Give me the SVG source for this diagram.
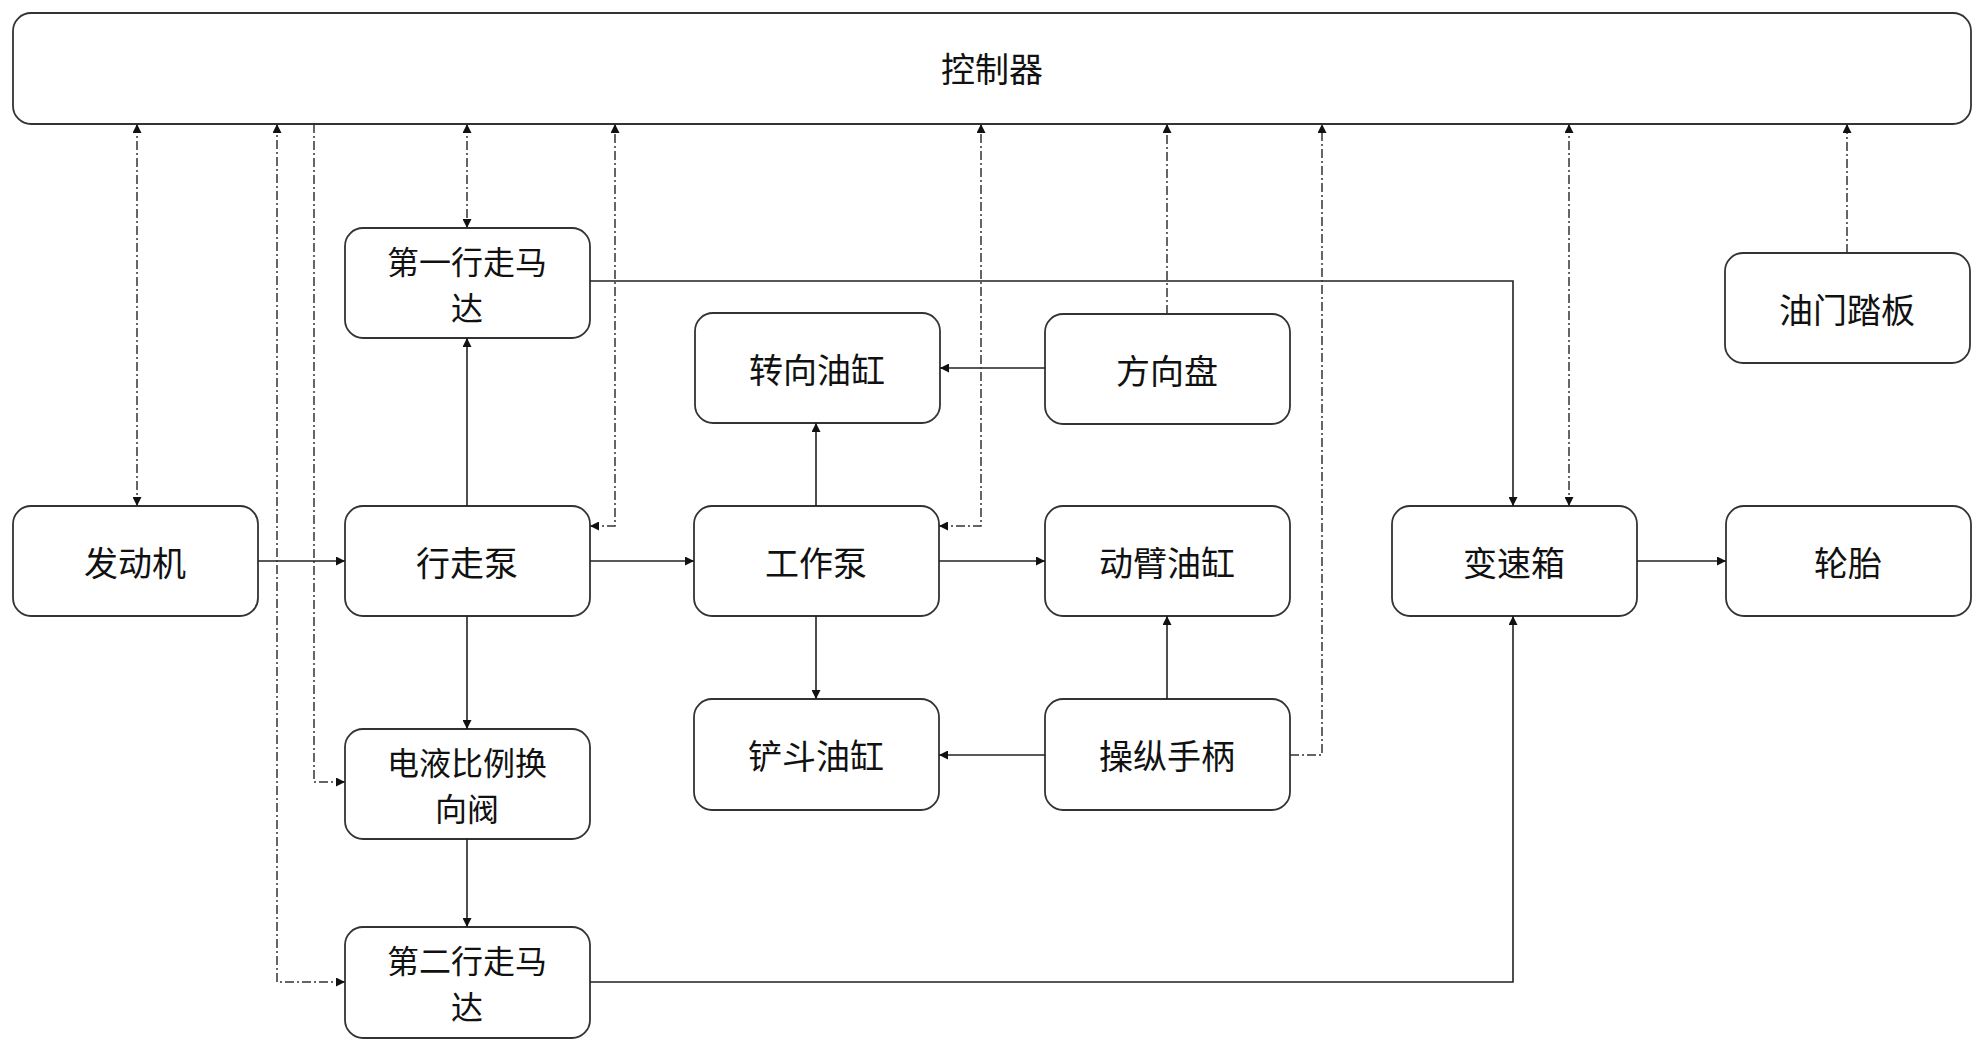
<svg xmlns="http://www.w3.org/2000/svg" width="1984" height="1052" viewBox="0 0 1984 1052">
<style>
.n rect{fill:#fff;stroke:#333;stroke-width:1.8}
.n text{font-family:"Noto Sans CJK SC",sans-serif;font-size:34px;fill:#111;text-anchor:middle;dominant-baseline:central}
.n text.t{font-size:32px}
.s{fill:none;stroke:#222;stroke-width:1.6}
.d{fill:none;stroke:#333;stroke-width:1.5;stroke-dasharray:9 3 2 3}
</style>
<defs>
<marker id="a" viewBox="0 0 10 10" refX="10" refY="5" markerWidth="9" markerHeight="9" markerUnits="userSpaceOnUse" orient="auto-start-reverse"><path d="M0,0L10,5L0,10Z" fill="#111"/></marker>
</defs>
<rect width="1984" height="1052" fill="#fff"/>
<g id="controller" class="n"><rect x="13" y="13" width="1958" height="111" rx="18"/><text x="992" y="67">控制器</text></g>
<g id="engine" class="n"><rect x="13" y="506" width="245" height="110" rx="18"/><text x="135" y="561">发动机</text></g>
<g id="travelpump" class="n"><rect x="345" y="506" width="245" height="110" rx="18"/><text x="467" y="561">行走泵</text></g>
<g id="motor1" class="n"><rect x="345" y="228" width="245" height="110" rx="18"/><text class="t" x="467" y="260">第一行走马</text><text class="t" x="467" y="306">达</text></g>
<g id="steercyl" class="n"><rect x="695" y="313" width="245" height="110" rx="18"/><text x="817" y="368">转向油缸</text></g>
<g id="wheel" class="n"><rect x="1045" y="314" width="245" height="110" rx="18"/><text x="1167" y="369">方向盘</text></g>
<g id="workpump" class="n"><rect x="694" y="506" width="245" height="110" rx="18"/><text x="816" y="561">工作泵</text></g>
<g id="boomcyl" class="n"><rect x="1045" y="506" width="245" height="110" rx="18"/><text x="1167" y="561">动臂油缸</text></g>
<g id="bucketcyl" class="n"><rect x="694" y="699" width="245" height="111" rx="18"/><text x="816" y="754">铲斗油缸</text></g>
<g id="joystick" class="n"><rect x="1045" y="699" width="245" height="111" rx="18"/><text x="1167" y="754">操纵手柄</text></g>
<g id="valve" class="n"><rect x="345" y="729" width="245" height="110" rx="18"/><text class="t" x="467" y="761">电液比例换</text><text class="t" x="467" y="807">向阀</text></g>
<g id="motor2" class="n"><rect x="345" y="927" width="245" height="111" rx="18"/><text class="t" x="467" y="959">第二行走马</text><text class="t" x="467" y="1005">达</text></g>
<g id="gearbox" class="n"><rect x="1392" y="506" width="245" height="110" rx="18"/><text x="1514" y="561">变速箱</text></g>
<g id="tire" class="n"><rect x="1726" y="506" width="245" height="110" rx="18"/><text x="1848" y="561">轮胎</text></g>
<g id="pedal" class="n"><rect x="1725" y="253" width="245" height="110" rx="18"/><text x="1847" y="308">油门踏板</text></g>
<g id="connectors">
<path class="s" d="M258,561H345" marker-end="url(#a)"/>
<path class="s" d="M467,506V338" marker-end="url(#a)"/>
<path class="s" d="M590,281H1513V506" marker-end="url(#a)"/>
<path class="s" d="M590,561H694" marker-end="url(#a)"/>
<path class="s" d="M467,616V729" marker-end="url(#a)"/>
<path class="s" d="M467,839V927" marker-end="url(#a)"/>
<path class="s" d="M590,982H1513V616" marker-end="url(#a)"/>
<path class="s" d="M816,506V423" marker-end="url(#a)"/>
<path class="s" d="M1045,368H940" marker-end="url(#a)"/>
<path class="s" d="M939,561H1045" marker-end="url(#a)"/>
<path class="s" d="M816,616V699" marker-end="url(#a)"/>
<path class="s" d="M1167,699V616" marker-end="url(#a)"/>
<path class="s" d="M1045,755H939" marker-end="url(#a)"/>
<path class="s" d="M1637,561H1726" marker-end="url(#a)"/>
<path class="d" d="M137,124V506" marker-start="url(#a)" marker-end="url(#a)"/>
<path class="d" d="M345,982H277V124" marker-start="url(#a)" marker-end="url(#a)"/>
<path class="d" d="M314,124V782H345" marker-end="url(#a)"/>
<path class="d" d="M467,124V228" marker-start="url(#a)" marker-end="url(#a)"/>
<path class="d" d="M590,526H615V124" marker-start="url(#a)" marker-end="url(#a)"/>
<path class="d" d="M939,526H981V124" marker-start="url(#a)" marker-end="url(#a)"/>
<path class="d" d="M1167,314V124" marker-end="url(#a)"/>
<path class="d" d="M1290,755H1322V124" marker-end="url(#a)"/>
<path class="d" d="M1569,124V506" marker-start="url(#a)" marker-end="url(#a)"/>
<path class="d" d="M1847,253V124" marker-end="url(#a)"/>
</g>
</svg>
